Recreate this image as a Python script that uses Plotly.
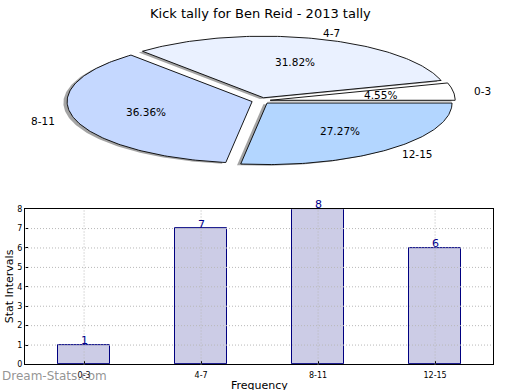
import math
import plotly.graph_objects as go

# ---- data ----
categories = ["0-3", "4-7", "8-11", "12-15"]
counts = [1, 7, 8, 6]
pie_colors = ["#FFFFFF", "#EAF1FF", "#C5D8FF", "#B3D6FF"]
title_text = "Kick tally for Ben Reid - 2013 tally"
y_ticks = [0, 1, 2, 3, 4, 5, 6, 7, 8]

W, H = 520, 390
EXPLODE = 0.05
LABEL_DIST = 1.1
PCT_DIST = 0.6
FONT = "DejaVu Sans"

fig = go.Figure()

total = sum(counts)
fracs = [c / total for c in counts]

def slice_pts(t1, t2, dx, dy, ox=0.0, oy=0.0):
    n = max(8, int((t2 - t1) * 60))
    xs = [dx + ox]
    ys = [dy + oy]
    for i in range(n + 1):
        t = t1 + (t2 - t1) * i / n
        xs.append(dx + ox + math.cos(t))
        ys.append(dy + oy + math.sin(t))
    xs.append(dx + ox)
    ys.append(dy + oy)
    return xs, ys

angles = []
acc = 0.0
for f in fracs:
    t1 = 2 * math.pi * acc
    acc += f
    t2 = 2 * math.pi * acc
    angles.append((t1, t2))

for (t1, t2) in angles:
    mid = (t1 + t2) / 2
    dx, dy = EXPLODE * math.cos(mid), EXPLODE * math.sin(mid)
    xs, ys = slice_pts(t1, t2, dx, dy, -0.02, -0.02)
    fig.add_trace(go.Scatter(x=xs, y=ys, mode="lines", fill="toself",
                             fillcolor="rgba(90,90,90,0.55)",
                             line=dict(width=0), hoverinfo="skip",
                             showlegend=False, xaxis="x", yaxis="y"))
for (t1, t2), col, cat in zip(angles, pie_colors, categories):
    mid = (t1 + t2) / 2
    dx, dy = EXPLODE * math.cos(mid), EXPLODE * math.sin(mid)
    xs, ys = slice_pts(t1, t2, dx, dy)
    fig.add_trace(go.Scatter(x=xs, y=ys, mode="lines", fill="toself",
                             fillcolor=col, line=dict(color="black", width=0.9),
                             name=cat, showlegend=False, xaxis="x", yaxis="y"))

annotations = []
for (t1, t2), cat, f in zip(angles, categories, fracs):
    mid = (t1 + t2) / 2
    c, s = math.cos(mid), math.sin(mid)
    dx, dy = EXPLODE * c, EXPLODE * s
    annotations.append(dict(x=dx + LABEL_DIST * c, y=dy + LABEL_DIST * s,
                            xref="x", yref="y", text=cat, showarrow=False,
                            xanchor="left" if c > 0 else "right", yanchor="middle",
                            font=dict(family=FONT, size=10.5, color="black")))
    annotations.append(dict(x=dx + PCT_DIST * c, y=dy + PCT_DIST * s,
                            xref="x", yref="y", text="%.2f%%" % (f * 100),
                            showarrow=False, xanchor="center", yanchor="middle",
                            font=dict(family=FONT, size=10.5, color="black")))

# ---- bar chart ----
xpos = list(range(len(categories)))
fig.add_trace(go.Bar(x=xpos, y=counts, width=0.45,
                     marker=dict(color="#CCCCE6", line=dict(color="#000080", width=1)),
                     showlegend=False, xaxis="x2", yaxis="y2"))

for xp, v in zip(xpos, counts):
    annotations.append(dict(x=xp, y=v, xref="x2", yref="y2", text=str(v),
                            showarrow=False, xanchor="center", yanchor="bottom",
                            yshift=-4, font=dict(family=FONT, size=11, color="#00008B")))

shapes = []
for xp in xpos:
    shapes.append(dict(type="line", xref="x2", yref="y2 domain", x0=xp, x1=xp, y0=0, y1=1,
                       line=dict(color="#B8B8B8", width=1, dash="1px,2px"), layer="above"))
for yv in y_ticks[1:-1]:
    shapes.append(dict(type="line", xref="x2 domain", yref="y2", x0=0, x1=1, y0=yv, y1=yv,
                       line=dict(color="#B8B8B8", width=1, dash="1px,2px"), layer="above"))

annotations.append(dict(x=0.5, y=1 - 10 / H, xref="paper", yref="paper", text=title_text,
                        showarrow=False, xanchor="center", yanchor="middle",
                        font=dict(family=FONT, size=13, color="black")))
annotations.append(dict(x=9 / W, y=1 - 289 / H, xref="paper", yref="paper",
                        text="Stat Intervals", textangle=-90, showarrow=False,
                        xanchor="center", yanchor="middle",
                        font=dict(family=FONT, size=11, color="black")))
annotations.append(dict(x=259 / W, y=1 - 391 / H, xref="paper", yref="paper",
                        text="Frequency", showarrow=False, xanchor="center", yanchor="middle",
                        font=dict(family=FONT, size=11, color="black")))
annotations.append(dict(x=0, y=1 - 381 / H, xref="paper", yref="paper",
                        text="Dream-Stats.com", showarrow=False, xanchor="left", yanchor="middle",
                        font=dict(family=FONT, size=12, color="rgba(120,120,120,0.8)")))

RX, RY, CX, CY = 185.0, 63.0, 261.0, 99.0
PY0, PY1 = 20.0, 180.0
fig.update_layout(
    width=W, height=H, margin=dict(l=0, r=0, t=0, b=0),
    paper_bgcolor="white", plot_bgcolor="rgba(0,0,0,0)",
    xaxis=dict(domain=[0, 1], range=[-CX / RX, (W - CX) / RX], visible=False, fixedrange=True),
    yaxis=dict(domain=[(H - PY1) / H, (H - PY0) / H],
               range=[-(PY1 - CY) / RY, (CY - PY0) / RY], visible=False, fixedrange=True),
    xaxis2=dict(domain=[25 / W, 493 / W], range=[-0.505, 3.495], anchor="y2",
                tickvals=xpos, ticktext=categories, showgrid=False, zeroline=False,
                showline=True, linecolor="black", linewidth=1, mirror=True,
                ticks="inside", ticklen=3, tickcolor="black", ticklabelstandoff=3,
                tickfont=dict(family=FONT, size=8, color="black")),
    yaxis2=dict(domain=[(H - 369) / H, (H - 210) / H], range=[0, 8], anchor="x2",
                tickvals=y_ticks, showgrid=False, zeroline=False,
                showline=True, linecolor="black", linewidth=1, mirror=True,
                ticks="inside", ticklen=3, tickcolor="black",
                tickfont=dict(family=FONT, size=8, color="black")),
    annotations=annotations, shapes=shapes, bargap=0,
)

fig.write_html("out.html", config={"displayModeBar": False},
               post_script="document.body.style.margin='0';document.body.style.overflow='hidden';")
